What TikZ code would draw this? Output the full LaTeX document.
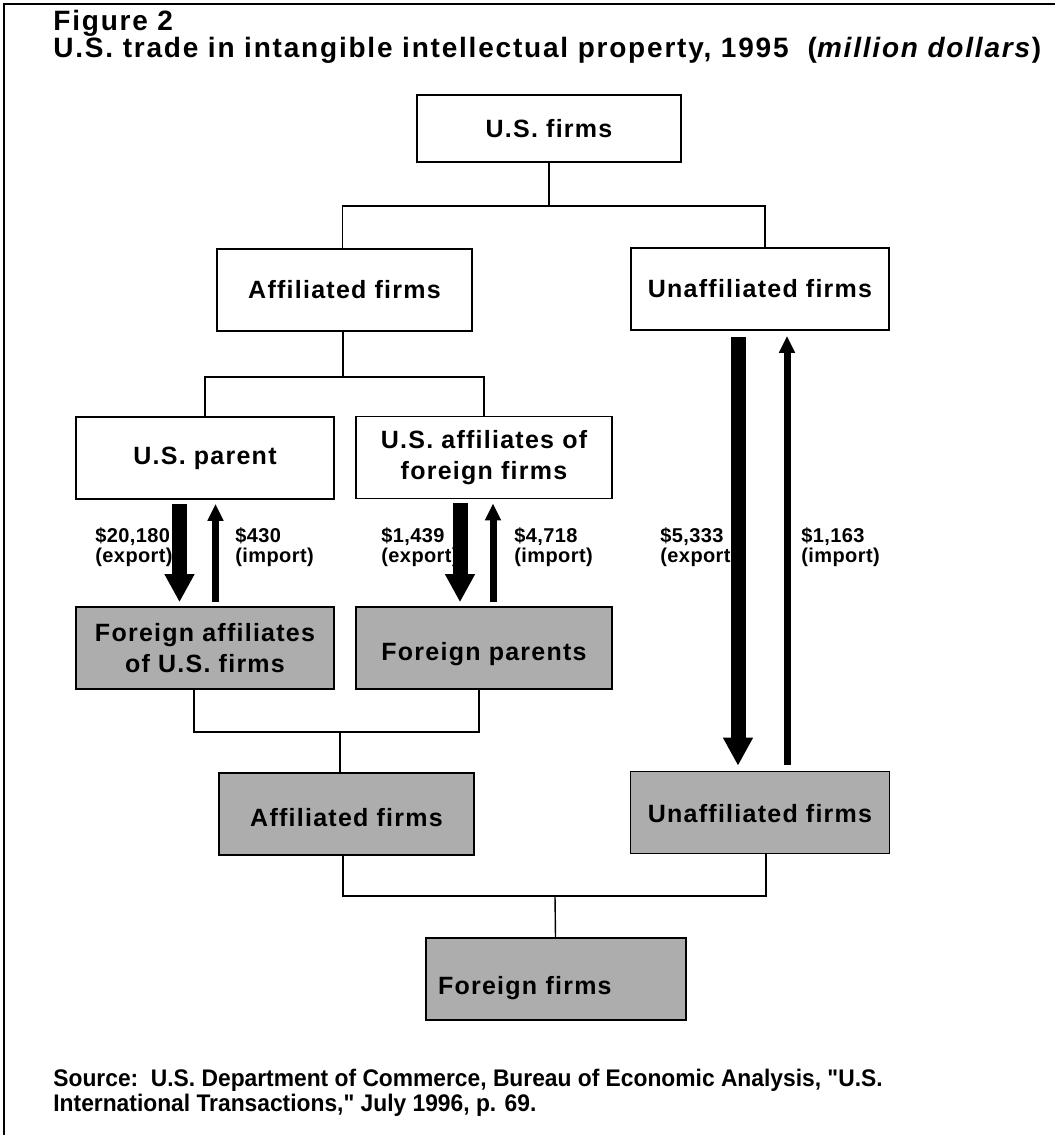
\documentclass[tikz,border=0pt]{standalone}
\usepackage{fontspec}
\setmainfont{Liberation Sans}
\newfontfamily\boxfont[LetterSpace=5]{Liberation Sans}
\newfontfamily\titlefont[LetterSpace=6.4]{Liberation Sans}
\newfontfamily\numfont[LetterSpace=2]{Liberation Sans}
\newfontfamily\srcfont[FakeStretch=0.95]{Liberation Sans}
\usetikzlibrary{arrows.meta,positioning}
\begin{document}
\begin{tikzpicture}[x=0.5pt,y=-0.5pt,
    every node/.style={inner sep=0pt},
    box/.style={draw,line width=0.8pt,fill=white,minimum width=128pt,
      minimum height=41pt,align=center,
      font=\boxfont\bfseries\fontsize{12.5}{15.5}\selectfont},
    shbox/.style={box,fill=black!32},
    link/.style={line width=0.7pt},
    bigarr/.style={line width=7.5pt,-{Triangle[width=14pt,length=14pt]}},
    thinarr/.style={line width=3.5pt,-{Triangle[width=7.5pt,length=8.5pt]}},
    lbl/.style={anchor=north west,align=left,
      font=\numfont\bfseries\fontsize{10}{10}\selectfont}]
  \useasboundingbox (0,0) rectangle (1055,1135);
  \draw[line width=1pt] (4,1135) -- (4,4) -- (1055,4);
  % heading
  \node[anchor=base west,font=\titlefont\bfseries\fontsize{14}{16}\selectfont]
    (fig) at (53,30) {Figure 2};
  \node[anchor=base west,font=\titlefont\bfseries\fontsize{14}{16}\selectfont]
    (ttl) at (53,57) {U.S. trade in intangible intellectual property, 1995\ \ (\textit{million dollars})};
  % U.S. side
  \node[box,minimum width=132pt,minimum height=33.5pt] (usf) at (549,128.5) {U.S. firms};
  \node[box,minimum width=127.5pt] (aff) at (344.5,290) {Affiliated firms};
  \node[box,minimum width=129pt] (unaff) at (760,289) {Unaffiliated firms};
  \node[box,minimum width=129pt] (upar) at (205,458) {U.S. parent};
  \node[box] (uaff) at (484,457.5) {U.S. affiliates of\\foreign firms};
  % foreign side
  \node[shbox,minimum width=129pt] (fafl) at (205,648) {Foreign affiliates\\of U.S. firms};
  \node[shbox,text height=15pt,text depth=3pt] (fpar) at (484,648) {Foreign parents};
  \node[shbox,minimum width=127.5pt,text height=15pt,text depth=3pt] (aff2) at (346.5,814) {Affiliated firms};
  \node[shbox,minimum width=129.5pt,text height=13pt,text depth=3pt] (unaff2) at (760,812.5) {Unaffiliated firms};
  \node[shbox,text width=118pt,inner xsep=6pt,align=left,text height=18pt,text depth=3pt]
    (ffirm) at (556,979) {Foreign firms};
  % tree links
  \coordinate (j1) at (549,206); \coordinate (j2) at (343,377);
  \coordinate (j3) at (340,732); \coordinate (j4) at (555,896);
  \draw[link] (usf) -- (j1);
  \draw[link] ([xshift=-1pt]aff.north) |- (j1) -| ([xshift=2.5pt]unaff.north);
  \draw[link] (aff.south -| j2) -- (j2);
  \draw[link] (upar) |- (j2) -| (uaff);
  \draw[link] ([xshift=-5.5pt]fafl.south) |- (j3) -| ([xshift=-2.5pt]fpar.south);
  \draw[link] (j3) -- (j3 |- aff2.north);
  \draw[link] ([xshift=-1.75pt]aff2.south) |- (j4) -| ([xshift=3pt]unaff2.south);
  \draw[link] (j4) -- (ffirm);
  % flows
  \draw[bigarr] ([xshift=-12.75pt,yshift=-2pt]upar.south) -- ([xshift=-12.75pt,yshift=2pt]fafl.north);
  \draw[thinarr] ([xshift=5.25pt,yshift=2pt]fafl.north) -- ([xshift=5.25pt,yshift=-2pt]upar.south);
  \draw[bigarr] ([xshift=-12pt,yshift=-2pt]uaff.south) -- ([xshift=-12pt,yshift=2pt]fpar.north);
  \draw[thinarr] ([xshift=4.5pt,yshift=2pt]fpar.north) -- ([xshift=4.5pt,yshift=-2pt]uaff.south);
  \draw[bigarr] ([xshift=-11pt,yshift=-3pt]unaff.south) -- ([xshift=-11pt,yshift=2.5pt]unaff2.north);
  \draw[thinarr] ([xshift=13.5pt,yshift=3pt]unaff2.north) -- ([xshift=13.5pt,yshift=-2.5pt]unaff.south);
  \node[lbl] (v1) at (95,527) {\$20,180\\(export)};
  \node[lbl] (v2) at (235,527) {\$430\\(import)};
  \node[lbl] (v3) at (381,527) {\$1,439\\(export)};
  \node[lbl] (v4) at (514,527) {\$4,718\\(import)};
  \node[lbl] (v5) at (660,527) {\$5,333\\(export)};
  \node[lbl] (v6) at (801,527) {\$1,163\\(import)};
  % source
  \node[anchor=north west,align=left,font=\srcfont\bfseries\fontsize{12}{12.5}\selectfont]
    (src) at (53,1069) {Source:\ \ U.S. Department of Commerce, Bureau of Economic Analysis, "U.S.\\International Transactions," July 1996, p. 69.};
\end{tikzpicture}
\end{document}
